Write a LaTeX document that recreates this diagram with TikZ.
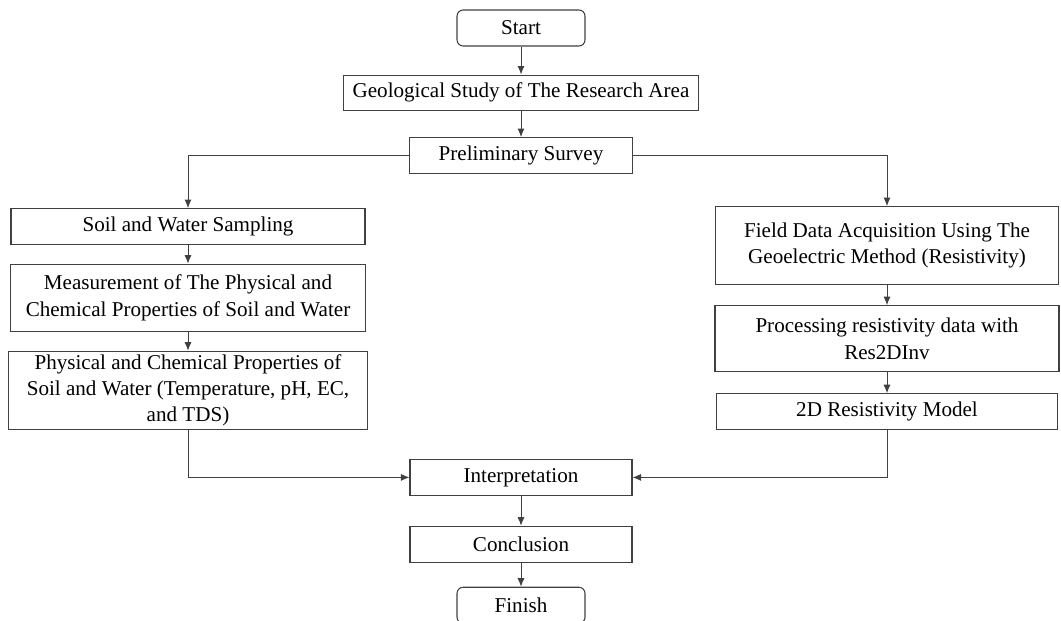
\documentclass[tikz,border=0pt]{standalone}
\usepackage{fontspec}
\setmainfont{Liberation Serif}
\usepackage{xcolor}
\usepackage{tikz}
\usetikzlibrary{shapes.geometric, arrows.meta, positioning, calc}
\tikzset{
  % Flowchart styles
  startstop/.style={rectangle, rounded corners=3.5pt, minimum width=2.56cm, minimum height=0.72cm, inner sep=0pt, text centered, draw=black!75, line width=0.6pt, font=\fontsize{12}{15}\selectfont},
  process/.style={rectangle, minimum width=#1, minimum height=0.71cm, inner sep=0pt, align=center, draw=black!75, line width=0.6pt, font=\fontsize{12}{15}\selectfont},
  process/.default={4.44cm},
  arrow/.style={-{Latex[length=1.7mm, width=1.4mm]}, line width=0.55pt, draw=black!75},
}

\begin{document}
\begin{tikzpicture}[node distance=0.38cm and 0.8cm]
    \useasboundingbox (0,0) rectangle (21.22,-12.42);

    % Start and common steps
    \node[startstop] (start) at (10.42,-0.56) {Start};
    \node[process=7.1cm, below=0.56cm of start] (geo) {Geological Study of The Research Area};
    \node[process=4.46cm, below=0.52cm of geo, minimum height=0.72cm] (prelim) {Preliminary Survey};

    % Left branch: soil and water
    \node[process=7.08cm, below=0.68cm of prelim, xshift=-6.66cm] (soil) {Soil and Water Sampling};
    \node[process=7.1cm, below=of soil, minimum height=1.34cm] (meas) {Measurement of The Physical and\\Chemical Properties of Soil and Water};
    \node[process=7.18cm, below=of meas, minimum height=1.56cm] (phys) {Physical and Chemical Properties of\\Soil and Water (Temperature, pH, EC,\\and TDS)};

    % Right branch: geoelectric
    \node[process=6.86cm, below=0.64cm of prelim, xshift=7.32cm, minimum height=1.56cm] (field) {Field Data Acquisition Using The\\Geoelectric Method (Resistivity)};
    \node[process=6.88cm, below=0.4cm of field, minimum height=1.32cm] (proc) {Processing resistivity data with\\Res2DInv};
    \node[process=6.82cm, below=0.42cm of proc, minimum height=0.72cm] (twod) {2D Resistivity Model};

    % Final steps
    \node[process, below=5.7cm of prelim] (interp) {Interpretation};
    \node[process, below=0.6cm of interp, minimum height=0.72cm] (concl) {Conclusion};
    \node[startstop, below=0.48cm of concl] (finish) {Finish};

    % Arrows
    \draw[arrow] (start) -- (geo);
    \draw[arrow] (geo) -- (prelim);
    \draw[arrow] (prelim.west) -| (soil.north);
    \draw[arrow] (prelim.east) -| (field.north);
    \draw[arrow] (soil) -- (meas);
    \draw[arrow] (meas) -- (phys);
    \draw[arrow] (field) -- (proc);
    \draw[arrow] (proc) -- (twod);
    \draw[arrow] (phys.south) |- (interp.west);
    \draw[arrow] (twod.south) |- (interp.east);
    \draw[arrow] (interp) -- (concl);
    \draw[arrow] (concl) -- (finish);
  \end{tikzpicture}
\end{document}
